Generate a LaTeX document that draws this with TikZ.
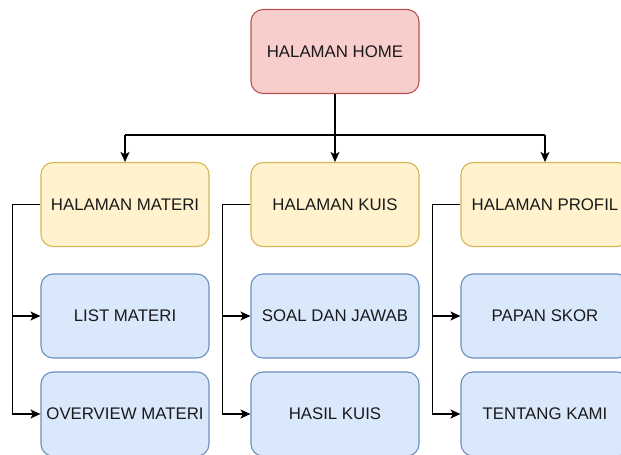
\documentclass[tikz,border=0pt]{standalone}
\usepackage{fontspec}
\setmainfont{Liberation Sans}
\usetikzlibrary{arrows.meta}
\definecolor{redfill}{HTML}{F8CECC}
\definecolor{redline}{HTML}{B85450}
\definecolor{yelfill}{HTML}{FFF2CC}
\definecolor{yelline}{HTML}{D6B656}
\definecolor{bluefill}{HTML}{DAE8FC}
\definecolor{blueline}{HTML}{6C8EBF}
\definecolor{txt}{HTML}{1A1A1A}
\tikzset{
  box/.style={rectangle, rounded corners=12pt, minimum width=168pt, minimum height=84pt,
    line width=1.1pt, inner sep=0pt, text=txt,
    font=\fontsize{16.8pt}{20pt}\selectfont},
  home/.style={box, fill=redfill, draw=redline},
  section/.style={box, fill=yelfill, draw=yelline},
  page/.style={box, fill=bluefill, draw=blueline},
  link/.style={line width=1.4pt, -{Stealth[length=10pt, width=9pt, inset=2.5pt]}},
  plain/.style={line width=1.4pt}
}
\begin{document}
\begin{tikzpicture}[x=1pt, y=-1pt]
\useasboundingbox (0,0) rectangle (621,455);
\clip (0,0) rectangle (621,455);
\fill[white] (0,0) rectangle (621,455);

% top level
\node[home] (home) at (335,51.5) {HALAMAN HOME};

% second level
\node[section] (materi) at (125,204.5) {HALAMAN MATERI};
\node[section] (kuis)   at (335,204.5) {HALAMAN KUIS};
\node[section] (profil) at (545,204.5) {HALAMAN PROFIL};

% pages under each section
\node[page] (list)     at (125,316) {LIST MATERI};
\node[page] (overview) at (125,414) {OVERVIEW MATERI};
\node[page] (soal)     at (335,316) {SOAL DAN JAWAB};
\node[page] (hasil)    at (335,414) {HASIL KUIS};
\node[page] (papan)    at (545,316) {PAPAN SKOR};
\node[page] (tentang)  at (545,414) {TENTANG KAMI};

% bus from home to the sections
\coordinate (bus) at (335,135);
\draw[plain] (home.south) -- (bus);
\draw[plain] (materi.north |- bus) -- (profil.north |- bus);
\draw[link] (materi.north |- bus) -- (materi.north);
\draw[link] (bus) -- (kuis.north);
\draw[link] (profil.north |- bus) -- (profil.north);

% section to page links
\foreach \s/\a/\b in {materi/list/overview, kuis/soal/hasil, profil/papan/tentang}{
  \draw[link] (\s.west) -- ++(-28,0) |- (\a.west);
  \draw[link] (\s.west) -- ++(-28,0) |- (\b.west);
}
\end{tikzpicture}
\end{document}
